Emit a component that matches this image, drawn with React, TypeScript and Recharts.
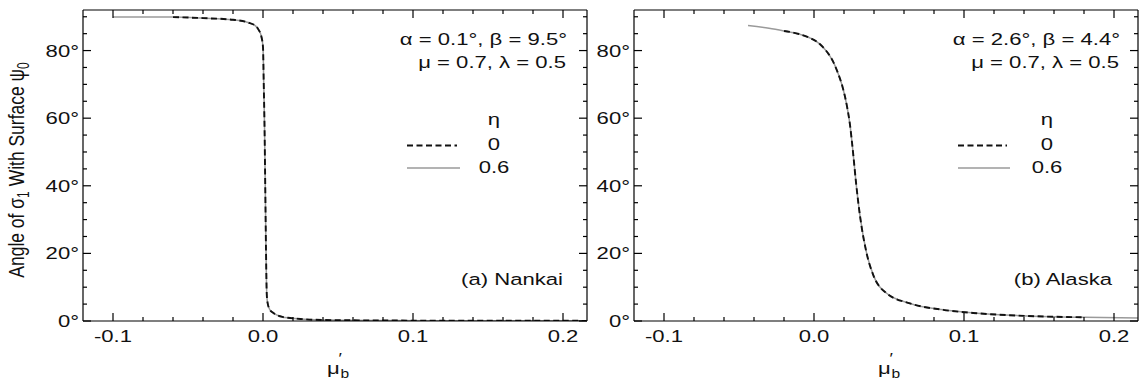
import React from 'react';
import { LineChart, Line, XAxis, YAxis } from 'recharts';

// ---- shared axes ----
const MU_DOMAIN: [number, number] = [-0.12, 0.216];
const PSI_DOMAIN: [number, number] = [0, 92];
const muTicks = [-0.1, -0.08, -0.06, -0.04, -0.02, 0, 0.02, 0.04, 0.06, 0.08, 0.1, 0.12, 0.14, 0.16, 0.18, 0.2];
const psiTicks = [0, 5, 10, 15, 20, 25, 30, 35, 40, 45, 50, 55, 60, 65, 70, 75, 80, 85, 90];

// ---- (a) Nankai ----
const nankaiMu = [-0.1, -0.08, -0.06, -0.04, -0.02, -0.01, -0.005, -0.003, -0.001, 0, 0.0005, 0.001, 0.0015, 0.002, 0.0025, 0.003, 0.0045, 0.0065, 0.009, 0.013, 0.018, 0.025, 0.035, 0.05, 0.08, 0.12, 0.16, 0.2155];
const nankaiEta0 = [null, null, 89.9, 89.6, 89.1, 88.3, 87.3, 86.2, 84, 81, 70, 58, 40, 21, 8, 5.5, 3.4, 2.5, 1.8, 1.2, 0.9, 0.6, 0.35, 0.25, 0.15, 0.1, 0.08, 0.05];
const nankaiEta06 = [89.9, 89.9, 89.9, 89.6, 89.1, 88.3, 87.3, 86.2, 84, 81, 70, 58, 40, 21, 8, 5.5, 3.4, 2.5, 1.8, 1.2, 0.9, 0.6, 0.35, 0.25, 0.15, 0.1, 0.08, 0.05];

// ---- (b) Alaska ----
const alaskaMu = [-0.044, -0.03, -0.02, -0.01, -0.003, 0.002, 0.006, 0.01, 0.013, 0.016, 0.019, 0.022, 0.024, 0.026, 0.028, 0.0307, 0.0351, 0.0396, 0.0484, 0.064, 0.0862, 0.1084, 0.1418, 0.18, 0.216];
const alaskaEta0 = [null, null, 85.8, 84.9, 83.8, 82.6, 81.0, 78.8, 76.5, 73.3, 69.3, 63.5, 58, 50, 41, 31, 20, 13.5, 8.2, 5.2, 3.3, 2.3, 1.5, 1.1, null];
const alaskaEta06 = [87.4, 86.6, 85.8, 84.9, 83.8, 82.6, 81.0, 78.8, 76.5, 73.3, 69.3, 63.5, 58, 50, 41, 31, 20, 13.5, 8.2, 5.2, 3.3, 2.3, 1.5, 1.1, 0.9];

const FONT = '"Liberation Sans", Arial, Helvetica, sans-serif';
const SX = 1.3; // horizontal text stretch
const FS = 17;

const toSeries = (mu: number[], psi: (number | null)[]) =>
  mu.map((m, i) => ({ mu: m, psi: psi[i] })).filter((d) => d.psi !== null);

type TProps = { x: number; y: number; anchor?: 'start' | 'middle' | 'end'; size?: number; children: React.ReactNode };
const T = ({ x, y, anchor = 'start', size = FS, children }: TProps) => (
  <text
    transform={`translate(${x} ${y}) scale(${SX} 1)`}
    textAnchor={anchor}
    fontFamily={FONT}
    fontSize={size}
    fill="#111"
  >
    {children}
  </text>
);

const isMajorMu = (v: number) => Math.abs(v * 10 - Math.round(v * 10)) < 1e-6;
const isMajorPsi = (v: number) => v % 20 === 0;
const MAJ = 8;
const MIN = 4;

const BottomTick = (p: any) => {
  const { x, y, payload } = p;
  const major = isMajorMu(payload.value);
  return (
    <g>
      <line x1={x} y1={y} x2={x} y2={y - (major ? MAJ : MIN)} stroke="#000" strokeWidth={1.2} />
      {major && (
        <T x={x} y={y + 21} anchor="middle">
          {Number(payload.value).toFixed(1)}
        </T>
      )}
    </g>
  );
};

const TopTick = (p: any) => {
  const { x, y, payload } = p;
  const major = isMajorMu(payload.value);
  return <line x1={x} y1={y} x2={x} y2={y + (major ? MAJ : MIN)} stroke="#000" strokeWidth={1.2} />;
};

const LeftTick = (p: any) => {
  const { x, y, payload } = p;
  const major = isMajorPsi(payload.value);
  return (
    <g>
      <line x1={x} y1={y} x2={x + (major ? MAJ : MIN)} y2={y} stroke="#000" strokeWidth={1.2} />
      {major && (
        <T x={x - 4} y={y + 6} anchor="end">
          {`${payload.value}°`}
        </T>
      )}
    </g>
  );
};

const RightTick = (p: any) => {
  const { x, y, payload } = p;
  const major = isMajorPsi(payload.value);
  return <line x1={x} y1={y} x2={x - (major ? MAJ : MIN)} y2={y} stroke="#000" strokeWidth={1.2} />;
};

type PanelProps = {
  width: number;
  leftW: number;
  rightW: number;
  eta0: { mu: number; psi: number | null }[];
  eta06: { mu: number; psi: number | null }[];
  line1: string;
  line2: string;
  textRight: number;
  legendX: number;
  legendLine: [number, number];
  name: string;
  nameRight: number;
  showYLabel?: boolean;
};

const Panel = (p: PanelProps) => {
  const plotCenter = p.leftW + (p.width - p.leftW - p.rightW) / 2;
  return (
    <LineChart width={p.width} height={381} margin={{ top: 0, right: 0, bottom: 0, left: 0 }}>
      <XAxis
        xAxisId="b"
        type="number"
        dataKey="mu"
        orientation="bottom"
        domain={MU_DOMAIN}
        allowDataOverflow
        ticks={muTicks}
        interval={0}
        tickSize={0}
        tickMargin={0}
        tick={BottomTick}
        height={60}
        axisLine={{ stroke: '#000', strokeWidth: 1.2 }}
      />
      <XAxis
        xAxisId="t"
        type="number"
        dataKey="mu"
        orientation="top"
        domain={MU_DOMAIN}
        allowDataOverflow
        ticks={muTicks}
        interval={0}
        tickSize={0}
        tickMargin={0}
        tick={TopTick}
        height={10}
        axisLine={{ stroke: '#000', strokeWidth: 1.2 }}
      />
      <YAxis
        yAxisId="l"
        type="number"
        orientation="left"
        domain={PSI_DOMAIN}
        allowDataOverflow
        ticks={psiTicks}
        interval={0}
        tickSize={0}
        tickMargin={0}
        tick={LeftTick}
        width={p.leftW}
        axisLine={{ stroke: '#000', strokeWidth: 1.2 }}
      />
      <YAxis
        yAxisId="r"
        type="number"
        orientation="right"
        domain={PSI_DOMAIN}
        allowDataOverflow
        ticks={psiTicks}
        interval={0}
        tickSize={0}
        tickMargin={0}
        tick={RightTick}
        width={p.rightW}
        axisLine={{ stroke: '#000', strokeWidth: 1.2 }}
      />
      <Line
        xAxisId="b"
        yAxisId="l"
        data={p.eta06}
        dataKey="psi"
        type="monotone"
        stroke="#9a9a9a"
        strokeWidth={1.5}
        dot={false}
        activeDot={false}
        isAnimationActive={false}
      />
      <Line
        xAxisId="b"
        yAxisId="l"
        data={p.eta0}
        dataKey="psi"
        type="monotone"
        stroke="#111"
        strokeWidth={1.9}
        strokeDasharray="6 3.5"
        dot={false}
        activeDot={false}
        isAnimationActive={false}
      />

      {/* parameter annotation */}
      <T x={p.textRight} y={45} anchor="end">{p.line1}</T>
      <T x={p.textRight - 1} y={68} anchor="end">{p.line2}</T>

      {/* legend */}
      <T x={p.legendX} y={125} anchor="middle">η</T>
      <line x1={p.legendLine[0]} y1={145.5} x2={p.legendLine[1]} y2={145.5} stroke="#111" strokeWidth={1.9} strokeDasharray="6 3.5" />
      <T x={p.legendX} y={150} anchor="middle">0</T>
      <line x1={p.legendLine[0]} y1={168} x2={p.legendLine[1] + 3} y2={168} stroke="#9a9a9a" strokeWidth={1.5} />
      <T x={p.legendX} y={173} anchor="middle">0.6</T>

      {/* panel name */}
      <T x={p.nameRight} y={285} anchor="end">{p.name}</T>

      {/* x-axis title: mu prime, subscript b */}
      <text
        transform={`translate(${plotCenter - 8} 374) scale(${SX} 1)`}
        fontFamily={FONT}
        fontSize={FS}
        fill="#111"
      >
        μ<tspan dx={-1} dy={-11} fontSize={14}>′</tspan><tspan dx={-1} dy={15} fontSize={12}>b</tspan>
      </text>

      {p.showYLabel && (
        <text
          transform={`translate(24 170) rotate(-90) scale(1 ${SX})`}
          textAnchor="middle"
          fontFamily={FONT}
          fontSize={17.5}
          fill="#111"
        >
          Angle of σ<tspan dy={4} fontSize={12}>1</tspan><tspan dy={-4}> With Surface ψ</tspan><tspan dy={4} fontSize={12}>0</tspan>
        </text>
      )}
    </LineChart>
  );
};

export default function App() {
  return (
    <div style={{ position: 'absolute', left: 0, top: 0, width: 1139, height: 381, background: '#fff' }}>
      <div style={{ position: 'absolute', left: 0, top: 0 }}>
        <Panel
          width={592}
          leftW={83}
          rightW={5}
          eta0={toSeries(nankaiMu, nankaiEta0)}
          eta06={toSeries(nankaiMu, nankaiEta06)}
          line1="α = 0.1°, β = 9.5°"
          line2="μ = 0.7, λ = 0.5"
          textRight={567}
          legendX={494}
          legendLine={[407, 457]}
          name="(a) Nankai"
          nameRight={563}
          showYLabel
        />
      </div>
      <div style={{ position: 'absolute', left: 592, top: 0 }}>
        <Panel
          width={547}
          leftW={42}
          rightW={1}
          eta0={toSeries(alaskaMu, alaskaEta0)}
          eta06={toSeries(alaskaMu, alaskaEta06)}
          line1="α = 2.6°, β = 4.4°"
          line2="μ = 0.7, λ = 0.5"
          textRight={528}
          legendX={455}
          legendLine={[366, 415]}
          name="(b) Alaska"
          nameRight={520}
        />
      </div>
    </div>
  );
}
